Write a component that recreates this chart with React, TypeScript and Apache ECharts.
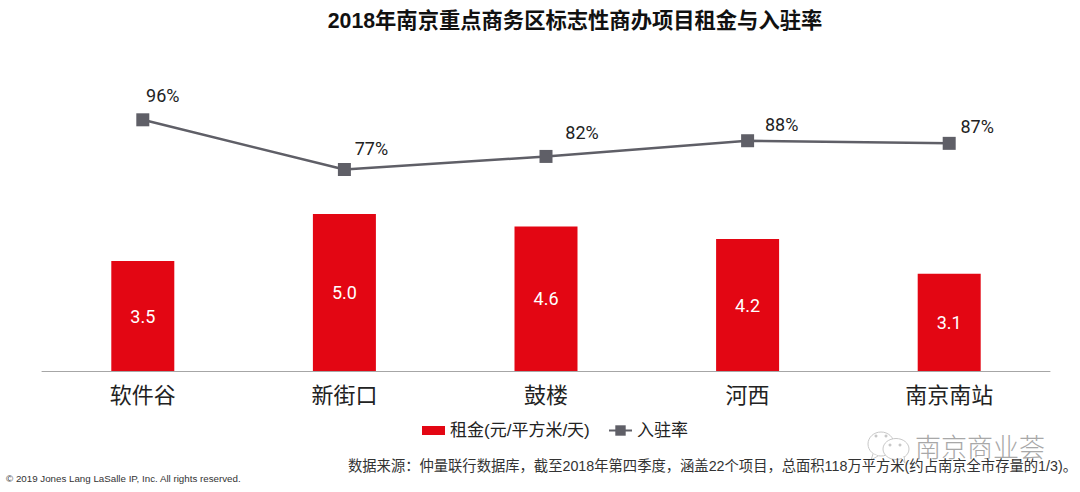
import React, { useEffect, useRef } from "react";
import * as echarts from "echarts";

const categories = ["软件谷", "新街口", "鼓楼", "河西", "南京南站"];
const rent = [3.5, 5.0, 4.6, 4.2, 3.1];
const occupancy = [96, 77, 82, 88, 87];
const labelOffsets = [[20, -3.5], [27, -0.5], [36, -3], [34, 4.5], [28, 4]];

const FONT = '"Liberation Sans", "Noto Sans CJK SC", sans-serif';
const NUM_FONT = "Roboto, sans-serif";
const GREY = "#5f5f67";
const MARK = "#c8c8c8";

export default function App() {
  const ref = useRef<HTMLDivElement>(null);
  useEffect(() => {
    const chart = echarts.init(ref.current!, undefined, { renderer: "svg" });
    const bubble = (cx: number, cy: number, rx: number, ry: number) => ({
      type: "ellipse",
      shape: { cx, cy, rx, ry },
      style: { fill: "#fff", stroke: MARK, lineWidth: 1 },
    });
    const eye = (cx: number, cy: number) => ({
      type: "circle",
      shape: { cx, cy, r: 1.5 },
      style: { fill: MARK },
    });
    const legendText = { fontSize: 17, color: "#222", fontFamily: FONT };
    chart.setOption({
      animation: false,
      backgroundColor: "#fff",
      textStyle: { fontFamily: FONT },
      title: {
        text: "2018年南京重点商务区标志性商办项目租金与入驻率",
        left: 570, top: 5, textAlign: "center",
        textStyle: { fontSize: 21.3, fontWeight: "bold", color: "#111", fontFamily: FONT },
      },
      grid: { left: 42, right: 30, top: 57, bottom: 121 },
      legend: [
        {
          left: 417, top: 417, itemWidth: 23, itemHeight: 9, textStyle: legendText,
          data: [{ name: "租金(元/平方米/天)", icon: "rect" }],
        },
        {
          left: 603, top: 417, itemWidth: 23, itemHeight: 13, textStyle: legendText,
          data: ["入驻率"],
        },
      ],
      xAxis: {
        type: "category", data: categories,
        axisTick: { show: false },
        axisLine: { lineStyle: { color: "#a6a6a6", width: 1 } },
        axisLabel: { fontSize: 22, color: "#222", margin: 13 },
      },
      yAxis: [
        { type: "value", min: 0, max: 10, show: false },
        { type: "value", min: 0, max: 120, show: false },
      ],
      series: [
        {
          name: "租金(元/平方米/天)", type: "bar", data: rent, barWidth: 63,
          itemStyle: { color: "#e30613" },
          label: {
            show: true, position: "inside", color: "#fff", fontSize: 18, fontFamily: NUM_FONT,
            formatter: (p: any) => p.value.toFixed(1),
          },
        },
        {
          name: "入驻率", type: "line", yAxisIndex: 1,
          data: occupancy.map((v, i) => ({
            value: v,
            label: { offset: labelOffsets[i] },
          })),
          symbol: "rect", symbolSize: 13,
          lineStyle: { color: GREY, width: 2.5 },
          itemStyle: { color: GREY },
          label: { show: true, position: "top", color: "#222", fontSize: 18, fontFamily: NUM_FONT, formatter: "{c}%" },
        },
      ],
      graphic: [
        bubble(881, 444, 13, 12),
        { type: "polyline", shape: { points: [[873, 454], [871, 460], [878, 456]] }, style: { fill: "#fff", stroke: MARK, lineWidth: 1 } },
        bubble(896, 449, 13, 10.5),
        { type: "polyline", shape: { points: [[901, 458], [905, 463], [904, 456]] }, style: { fill: "#fff", stroke: MARK, lineWidth: 1 } },
        eye(876, 436), eye(886, 436), eye(890, 445), eye(900, 445),
        {
          type: "text", x: 915, y: 432,
          style: { text: "南京商业荟", fontSize: 26, fill: "#a8a8a8", fontFamily: '"Noto Sans CJK SC", sans-serif', fontWeight: 300 },
        },
        {
          type: "text", x: 348, y: 459,
          style: {
            text: "数据来源：仲量联行数据库，截至2018年第四季度，涵盖22个项目，总面积118万平方米(约占南京全市存量的1/3)。",
            fontSize: 14.3, fill: "#333", fontFamily: FONT,
          },
        },
        {
          type: "text", x: 6, y: 474,
          style: {
            text: "© 2019 Jones Lang LaSalle IP, Inc. All rights reserved.",
            fontSize: 9.75, fill: "#333", fontFamily: FONT,
          },
        },
      ],
    });
    return () => chart.dispose();
  }, []);
  return <div ref={ref} style={{ position: "fixed", left: 0, top: 0, width: 1080, height: 492 }} />;
}
